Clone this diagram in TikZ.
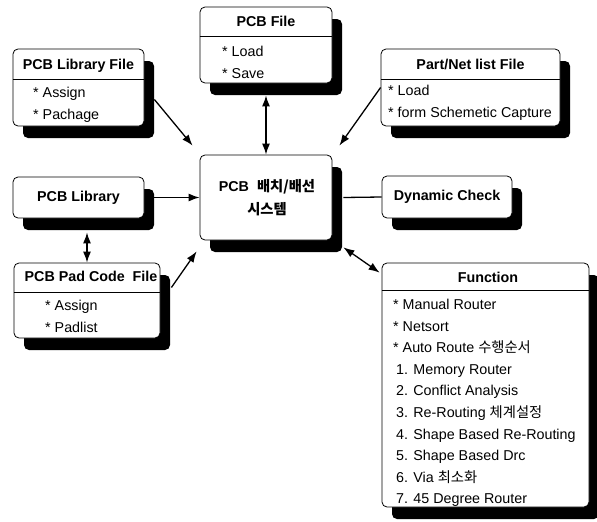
\documentclass[tikz,border=0pt]{standalone}
\usepackage{fontspec}
\setmainfont{Liberation Sans}
\newfontfamily\kr{Noto Sans CJK KR}
\usetikzlibrary{arrows.meta,shadows,calc}

\begin{document}
\begin{tikzpicture}[x=1pt,y=1pt]
\tikzset{
    box/.style={rectangle, rounded corners=5pt, draw, fill=white, line width=0.8pt,
        drop shadow={shadow xshift=10pt, shadow yshift=-12pt, fill=black, opacity=1}},
    headfont/.style={font=\bfseries\fontsize{14.3}{17}\selectfont},
    boxtitle/.style={headfont, inner sep=0pt, anchor=base},
    items/.style={font=\fontsize{14.3}{21.6}\selectfont, align=left, anchor=north west, inner sep=0pt},
    arr/.style={-{Latex[length=11pt,width=8pt]}, line width=1.3pt},
    arrboth/.style={{Latex[length=11pt,width=8pt]}-{Latex[length=11pt,width=8pt]}, line width=1.3pt}
}
\useasboundingbox (0,0) rectangle (597,-522);

  % boxes
  \node[box, minimum width=131pt, minimum height=77pt] (libfile) at (78.5,-87.5) {};
  \node[box, minimum width=132pt, minimum height=76pt] (pcbfile) at (266,-45) {};
  \node[box, minimum width=179pt, minimum height=77pt] (netfile) at (470.5,-87.5) {};
  \node[box, minimum width=132pt, minimum height=85pt] (core) at (266,-197.5) {};
  \node[box, headfont, minimum width=131pt, minimum height=41pt] (lib) at (78.5,-197.5) {PCB Library};
  \node[box, headfont, minimum width=130pt, minimum height=42pt] (dyn) at (447,-197) {Dynamic Check};
  \node[box, minimum width=146pt, minimum height=75pt] (padfile) at (87,-300.5) {};
  \node[box, minimum width=207pt, minimum height=244pt] (func) at (485.5,-385) {};

  % header lines
  \draw[line width=0.8pt] (libfile.west |- 0,-79) -- (libfile.east |- 0,-79);
  \draw[line width=0.8pt] (pcbfile.west |- 0,-36) -- (pcbfile.east |- 0,-36);
  \draw[line width=0.8pt] (netfile.west |- 0,-79) -- (netfile.east |- 0,-79);
  \draw[line width=0.8pt] (padfile.west |- 0,-292) -- (padfile.east |- 0,-292);
  \draw[line width=0.8pt] (func.west |- 0,-290) -- (func.east |- 0,-290);

  % titles
  \node[boxtitle] (libfile-title) at (78.5,-69) {PCB Library File};
  \node[boxtitle] (pcbfile-title) at (266,-27) {PCB File};
  \node[boxtitle] (netfile-title) at (470.5,-69) {Part/Net list File};
  \node[boxtitle] (padfile-title) at (91,-281) {PCB Pad Code\ \ File};
  \node[boxtitle] (func-title) at (488,-282) {Function};
  \node[headfont, align=center, inner sep=0pt, font=\bfseries\fontsize{14.3}{23}\selectfont]
    (core-text) at (267,-198) {PCB\ \ {\kr 배치/배선}\\{\kr 시스템}};

  % item lists
  \node[items] (libfile-items) at (33,-87) {* Assign\\* Pachage};
  \node[items] (pcbfile-items) at (222,-46) {* Load\\* Save};
  \node[items] (netfile-items) at (388,-85) {* Load\\* form Schemetic Capture};
  \node[items] (padfile-items) at (45,-300) {* Assign\\* Padlist};
  \node[items] (func-items) at (393,-299) {* Manual Router\\
    * Netsort\\
    * Auto Route {\kr 수행순서}\\
    \hspace*{3pt}1. Memory Router\\
    \hspace*{3pt}2. Conflict Analysis\\
    \hspace*{3pt}3. Re-Routing {\kr 체계설정}\\
    \hspace*{3pt}4. Shape Based Re-Routing\\
    \hspace*{3pt}5. Shape Based Drc\\
    \hspace*{3pt}6. Via {\kr 최소화}\\
    \hspace*{3pt}7. 45 Degree Router};

  % connectors
  \draw[arr] ([xshift=10pt,yshift=-12pt]libfile.east) -- ([xshift=-7pt,yshift=9pt]core.north west);
  \draw[arrboth] ([yshift=-12pt]pcbfile.south) -- (core.north);
  \draw[arr] (netfile.west) -- ([xshift=7pt,yshift=9pt]core.north east);
  \draw[arr] ([xshift=10pt]lib.east) -- (core.west);
  \draw[arrboth] ($(padfile.north |- lib.south)+(0,-14)$) -- (padfile.north);
  \draw[arr] ([xshift=11pt,yshift=13pt]padfile.east) -- ([xshift=-3pt,yshift=-11pt]core.south west);
  \draw[line width=1.3pt] ([xshift=11pt]core.east) -- (dyn.west);
  \draw[arrboth] ([xshift=11pt,yshift=-7pt]core.south east) -- ([xshift=-2pt,yshift=-10pt]func.north west);
\end{tikzpicture}
\end{document}
